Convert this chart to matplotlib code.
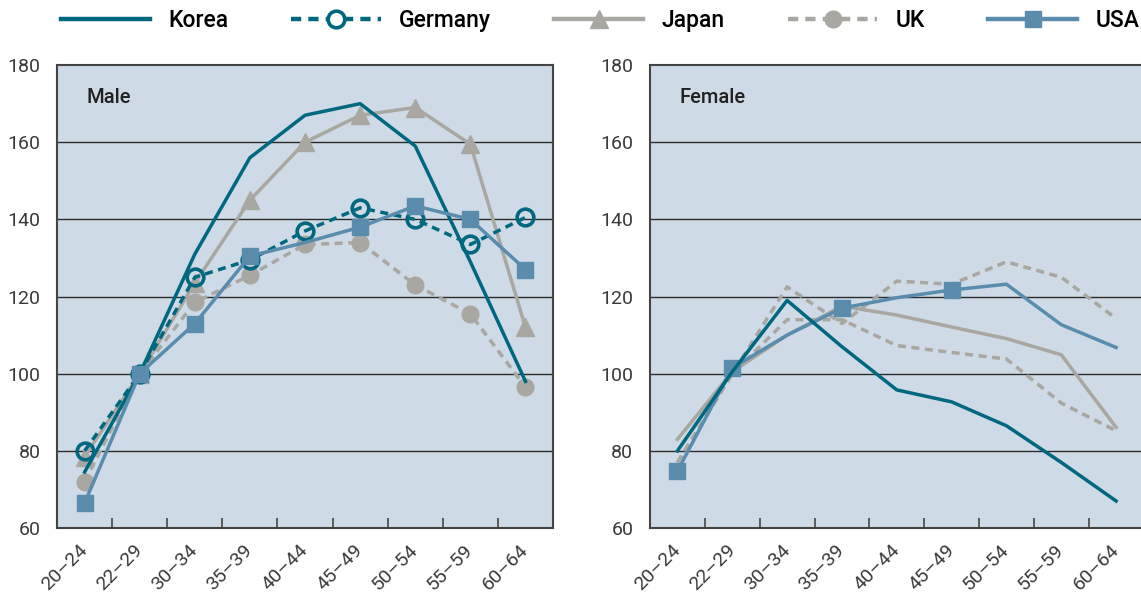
import numpy as np
import matplotlib
matplotlib.use("Agg")
import matplotlib.pyplot as plt
import matplotlib.transforms as mtransforms
from matplotlib.lines import Line2D

# age groups (labels as printed in the chart)
ages = ["20–24", "22–29", "30–34", "35–39", "40–44", "45–49", "50–54", "55–59", "60–64"]

# male
korea_m = [74.5, 100, 131, 156, 167, 170, 159, 129, 98]
germany_m = [80, 100, 125, 129.5, 137, 143, 140, 133.5, 140.5]
japan_m = [78.5, 100, 123.5, 145, 160, 167, 169, 159.5, 112]
uk_m = [72, 100, 118.5, 125.5, 133.5, 134, 123, 115.5, 96.5]
usa_m = [66.5, 100, 113, 130.5, 134, 138, 143.5, 140, 127]

# female
korea_f = [80, 100.5, 119, 107, 95.8, 92.7, 86.5, 77, 67]
germany_f = [77, 100, 122.5, 113, 124, 123.2, 129, 125, 114.3]
japan_f = [83, 100.5, 110, 117.5, 115.2, 112.1, 109.1, 104.9, 86.1]
uk_f = [77, 100, 114, 114, 107.3, 105.5, 103.8, 92.4, 85.2]
usa_f = [74.8, 101.5, 110, 117, 119.7, 121.7, 123.2, 112.7, 106.8]

yticks = [60, 80, 100, 120, 140, 160, 180]

TEAL = "#00687E"
GREY = "#A8A7A2"
BLUE = "#5A8CAD"
BG = "#CEDBE6"
DARK = "#3a3a3a"

tick_font = ["Roboto", "DejaVu Sans"]
head_font = ["Roboto", "DejaVu Sans"]

fig = plt.figure(figsize=(11.41, 5.95), dpi=100)
ax1 = fig.add_axes([0.050, 0.1126, 0.4347, 0.778])
ax2 = fig.add_axes([0.5697, 0.1126, 0.4325, 0.778])

x = np.arange(len(ages))


def style_axes(ax, title):
    ax.set_facecolor(BG)
    ax.set_xlim(-0.5, len(ages) - 0.5)
    ax.set_ylim(60, 180)
    ax.set_yticks(yticks)
    ax.set_yticklabels([str(v) for v in yticks], family=tick_font, fontsize=14, color=DARK)
    ax.tick_params(axis="y", length=0, pad=12)
    for v in yticks[1:-1]:
        ax.axhline(v, color="#2b2b2b", lw=1.0, zorder=1)
    ax.set_xticks(x)
    ax.set_xticklabels(ages, rotation=45, ha="right", va="center", rotation_mode="anchor",
                       family=tick_font, fontsize=14, color=DARK)
    offset = mtransforms.ScaledTranslation(5 / 72, 0, fig.dpi_scale_trans)
    for lab in ax.get_xticklabels():
        lab.set_transform(lab.get_transform() + offset)
    ax.tick_params(axis="x", which="major", length=0, pad=14)
    ax.set_xticks(x[:-1] + 0.5, minor=True)
    ax.tick_params(axis="x", which="minor", direction="in", length=7, width=1.2, color="#444444")
    for s in ax.spines.values():
        s.set_color("#444444")
        s.set_linewidth(1.5)
    ax.text(0.06, 0.93, title, transform=ax.transAxes, family=head_font,
            fontweight="medium", fontsize=14.5, color="#222222", va="center")


style_axes(ax1, "Male")
style_axes(ax2, "Female")
ax2.spines["right"].set_visible(False)

lw = 2.5
dash = (0, (2.3, 1.6))
# male panel
ax1.plot(x, japan_m, color=GREY, lw=lw, marker="^", ms=13, zorder=3)
ax1.plot(x, uk_m, color=GREY, lw=lw, ls=dash, marker="o", ms=12, zorder=3)
ax1.plot(x, germany_m, color=TEAL, lw=lw, ls=dash, marker="o", ms=12,
         mfc="none", mew=2.6, zorder=4)
ax1.plot(x, korea_m, color=TEAL, lw=lw, zorder=4)
ax1.plot(x, usa_m, color=BLUE, lw=lw, marker="s", ms=11.5, markevery=[0, 1, 2, 3, 5, 6, 7, 8],
         zorder=5)

# female panel
ax2.plot(x, japan_f, color=GREY, lw=lw, zorder=3)
ax2.plot(x, germany_f, color=GREY, lw=lw, ls=dash, zorder=3)
ax2.plot(x, uk_f, color=GREY, lw=lw, ls=dash, zorder=3)
ax2.plot(x, usa_f, color=BLUE, lw=lw, marker="s", ms=11.5, markevery=[0, 1, 3, 5], zorder=4)
ax2.plot(x, korea_f, color=TEAL, lw=lw, zorder=5)

handles = [
    Line2D([], [], color=TEAL, lw=3.2),
    Line2D([], [], color=TEAL, lw=3.2, ls=dash, marker="o", ms=12, mfc="white", mew=2.6),
    Line2D([], [], color=GREY, lw=3.2, marker="^", ms=13),
    Line2D([], [], color=GREY, lw=3.2, ls=dash, marker="o", ms=12),
    Line2D([], [], color=BLUE, lw=3.2, marker="s", ms=11.5),
]
labels = ["Korea", "Germany", "Japan", "UK", "USA"]
fig.legend(handles, labels, loc="upper left", ncol=5, mode="expand",
           bbox_to_anchor=(0.041, 1.008, 0.97, 0), frameon=False, handlelength=3.9,
           handletextpad=0.8, prop={"family": head_font, "weight": "medium", "size": 16.5},
           borderaxespad=0.2)

fig.savefig("out.png", dpi=100)
